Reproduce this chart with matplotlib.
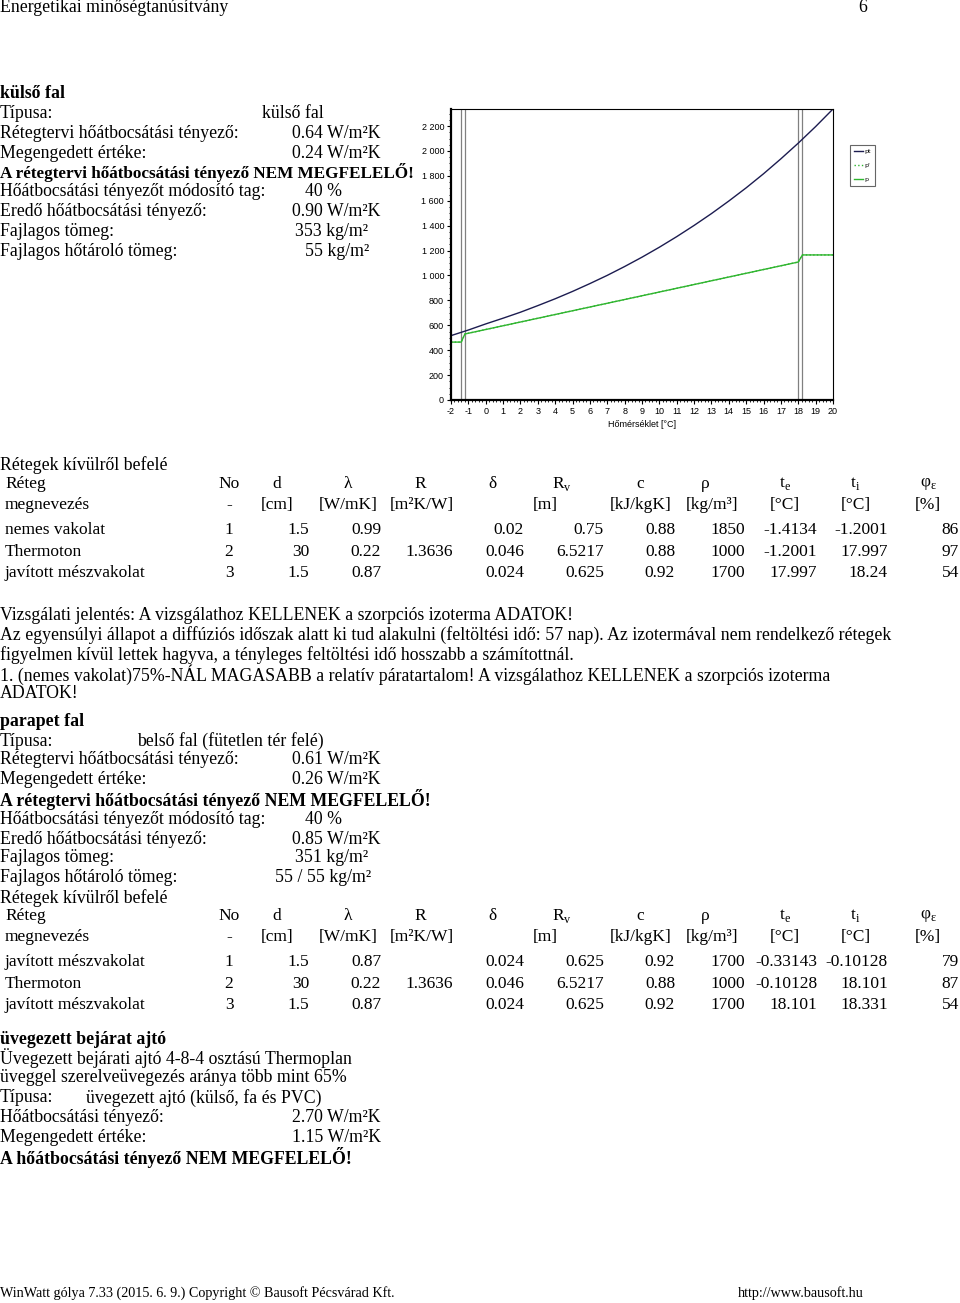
import numpy as np
import matplotlib
matplotlib.use('Agg')
import matplotlib.pyplot as plt
from matplotlib.ticker import MultipleLocator, FixedLocator

plt.rcParams['axes.unicode_minus'] = False

# chart data
temp = [-2, -1, 0, 1, 2, 3, 4, 5, 6, 7, 8, 9, 10, 11, 12, 13, 14, 15, 16, 17, 18, 19, 20]
pt = [517, 562, 611, 657, 705, 758, 813, 872, 935, 1001, 1072, 1147, 1227, 1312,
      1402, 1497, 1598, 1704, 1817, 1937, 2063, 2196, 2337]
p_temp = [-2, -1.4134, -1.2001, 17.997, 18.24, 20]
p_vals = [465, 465, 530, 1108, 1165, 1165]
bounds = [-1.4134, -1.2001, 17.997, 18.24]
yticks = [0, 200, 400, 600, 800, 1000, 1200, 1400, 1600, 1800, 2000, 2200]
ytick_labels = ['0', '200', '400', '600', '800', '1 000', '1 200', '1 400', '1 600',
                '1 800', '2 000', '2 200']
xticks = list(range(-2, 21))

# table data
head1 = ['No', 'd', 'λ', 'R', 'δ', 'R$_\\mathregular{v}$', 'c', 'ρ', 't$_\\mathregular{e}$', 't$_\\mathregular{i}$', 'φ$_\\mathregular{ε}$']
head2 = ['-', '[cm]', '[W/mK]', '[m²K/W]', '', '[m]', '[kJ/kgK]', '[kg/m³]', '[°C]', '[°C]', '[%]']
rows1 = [['nemes vakolat', '1', '1.5', '0.99', '', '0.02', '0.75', '0.88', '1850', '-1.4134', '-1.2001', '86'],
         ['Thermoton', '2', '30', '0.22', '1.3636', '0.046', '6.5217', '0.88', '1000', '-1.2001', '17.997', '97'],
         ['javított mészvakolat', '3', '1.5', '0.87', '', '0.024', '0.625', '0.92', '1700', '17.997', '18.24', '54']]
rows2 = [['javított mészvakolat', '1', '1.5', '0.87', '', '0.024', '0.625', '0.92', '1700', '-0.33143', '-0.10128', '79'],
         ['Thermoton', '2', '30', '0.22', '1.3636', '0.046', '6.5217', '0.88', '1000', '-0.10128', '18.101', '87'],
         ['javított mészvakolat', '3', '1.5', '0.87', '', '0.024', '0.625', '0.92', '1700', '18.101', '18.331', '54']]

W, H = 960, 1303
fig = plt.figure(figsize=(W / 100, H / 100), dpi=100)
SERIF = ['Liberation Serif', 'DejaVu Serif']
FS = 12.8
TFS = 12.5


def t(x, y, s, bold=False, ha='left', fs=FS, **kw):
    fig.text(x / W, 1 - y / H, s, ha=ha, va='center', fontsize=fs, family=SERIF,
             fontweight='bold' if bold else 'normal', **kw)


t(0, 8, 'Energetikai minőségtanúsítvány', fs=12.8)
t(858, 8, '6', fs=12.8)

# --- section 1
t(0, 94, 'külső fal', bold=True)
t(0, 114, 'Típusa:')
t(262, 114, 'külső fal')
t(0, 133, 'Rétegtervi hőátbocsátási tényező:')
t(292, 133, '0.64 W/m²K')
t(0, 153, 'Megengedett értéke:')
t(292, 153, '0.24 W/m²K')
t(0, 172, 'A rétegtervi hőátbocsátási tényező NEM MEGFELELŐ!', bold=True, fs=12.3)
t(0, 192, 'Hőátbocsátási tényezőt módosító tag:')
t(305, 192, '40 %')
t(0, 212, 'Eredő hőátbocsátási tényező:')
t(292, 212, '0.90 W/m²K')
t(0, 231, 'Fajlagos tömeg:')
t(295, 231, '353 kg/m²')
t(0, 251, 'Fajlagos hőtároló tömeg:')
t(305, 251, '55 kg/m²')

# table layout
head_x = [229, 277, 348, 420, 492, 562, 640, 705, 785, 855, 928]
unit_x = [229, 277, 348, 422, 492, 545, 641, 712, 785, 856, 928]
col_right = [309, 381, 453, 524, 604, 675, 745, 817, 888, 959]


def table(y0, rows):
    t(5, y0, 'Réteg', fs=TFS)
    t(5, y0 + 21, 'megnevezés', fs=TFS)
    for x, h in zip(head_x, head1):
        t(x, y0, h, ha='center', fs=TFS)
    for x, h in zip(unit_x, head2):
        t(x, y0 + 21, h, ha='center', fs=TFS)
    for i, r in enumerate(rows):
        y = y0 + 46 + i * 21.5
        t(5, y, r[0], fs=TFS)
        t(229, y, r[1], ha='center', fs=TFS)
        for x, v in zip(col_right, r[2:]):
            t(x, y, v, ha='right', fs=TFS)


t(0, 465, 'Rétegek kívülről befelé')
table(484, rows1)

t(0, 616, 'Vizsgálati jelentés: A vizsgálathoz KELLENEK a szorpciós izoterma ADATOK!')
t(0, 635, 'Az egyensúlyi állapot a diffúziós időszak alatt ki tud alakulni (feltöltési idő: 57 nap). '
          'Az izotermával nem rendelkező rétegek')
t(0, 655, 'figyelmen kívül lettek hagyva, a tényleges feltöltési idő hosszabb a számítottnál.')
t(0, 675, '1. (nemes vakolat)75%-NÁL MAGASABB a relatív páratartalom! A vizsgálathoz KELLENEK a szorpciós izoterma')
t(0, 694, 'ADATOK!')

# --- section 2
t(0, 721, 'parapet fal', bold=True)
t(0, 741, 'Típusa:')
t(137, 741, 'belső fal (fütetlen tér felé)')
t(0, 760, 'Rétegtervi hőátbocsátási tényező:')
t(292, 760, '0.61 W/m²K')
t(0, 780, 'Megengedett értéke:')
t(292, 780, '0.26 W/m²K')
t(0, 799, 'A rétegtervi hőátbocsátási tényező NEM MEGFELELŐ!', bold=True)
t(0, 819, 'Hőátbocsátási tényezőt módosító tag:')
t(305, 819, '40 %')
t(0, 839, 'Eredő hőátbocsátási tényező:')
t(292, 839, '0.85 W/m²K')
t(0, 858, 'Fajlagos tömeg:')
t(295, 858, '351 kg/m²')
t(0, 878, 'Fajlagos hőtároló tömeg:')
t(275, 878, '55 / 55 kg/m²')
t(0, 898, 'Rétegek kívülről befelé')
table(916, rows2)

# --- section 3
t(0, 1039, 'üvegezett bejárat ajtó', bold=True)
t(0, 1058, 'Üvegezett bejárati ajtó 4-8-4 osztású Thermoplan')
t(0, 1078, 'üveggel szerelveüvegezés aránya több mint 65%')
t(0, 1098, 'Típusa:')
t(86, 1098, 'üvegezett ajtó (külső, fa és PVC)')
t(0, 1118, 'Hőátbocsátási tényező:')
t(292, 1118, '2.70 W/m²K')
t(0, 1137, 'Megengedett értéke:')
t(292, 1137, '1.15 W/m²K')
t(0, 1157, 'A hőátbocsátási tényező NEM MEGFELELŐ!', bold=True)

t(0, 1293, 'WinWatt gólya 7.33 (2015. 6. 9.) Copyright © Bausoft Pécsvárad Kft.', fs=10.2)
t(738, 1293, 'http://www.bausoft.hu', fs=10.2)

# --- chart
ax = fig.add_axes([451 / W, 1 - 400 / H, (833 - 451) / W, (400 - 109) / H])
for b in bounds:
    ax.axvline(b, color='#808080', lw=0.9)
ax.plot(temp, pt, color='#1c1c50', lw=1.0, label='pt')
ax.plot(p_temp, p_vals, color='#2fb52f', lw=1.0, ls=':', label="p'")
ax.plot(p_temp, p_vals, color='#2fb52f', lw=1.0, label='p')
ax.set_xlim(-2, 20)
ax.set_ylim(0, 2337)
ax.set_xticks(xticks)
ax.xaxis.set_minor_locator(MultipleLocator(0.2))
ax.yaxis.set_major_locator(FixedLocator(yticks))
ax.set_yticklabels(ytick_labels)
ax.yaxis.set_minor_locator(MultipleLocator(50))
SANS = ['Liberation Sans', 'DejaVu Sans']
for lab in ax.get_xticklabels() + ax.get_yticklabels():
    lab.set_family(SANS)
    lab.set_fontsize(6.5)
ax.tick_params(which='major', length=3, width=0.8, pad=2)
ax.tick_params(which='minor', length=1.5, width=0.6)
ax.spines['left'].set_linewidth(1.6)
ax.spines['bottom'].set_linewidth(1.6)
ax.spines['top'].set_linewidth(0.8)
ax.spines['right'].set_linewidth(0.8)
ax.set_xlabel('Hőmérséklet [°C]', fontsize=6.5, family=SANS, labelpad=3)

leg = fig.legend(loc='upper left', bbox_to_anchor=(847 / W, 1 - 142 / H), fontsize=4.5,
                 handlelength=1.4, handletextpad=0.3, borderpad=0.6, labelspacing=1.4,
                 frameon=True, fancybox=False, edgecolor='#404040')
leg.get_frame().set_linewidth(0.8)

fig.savefig('out.png', dpi=100)
